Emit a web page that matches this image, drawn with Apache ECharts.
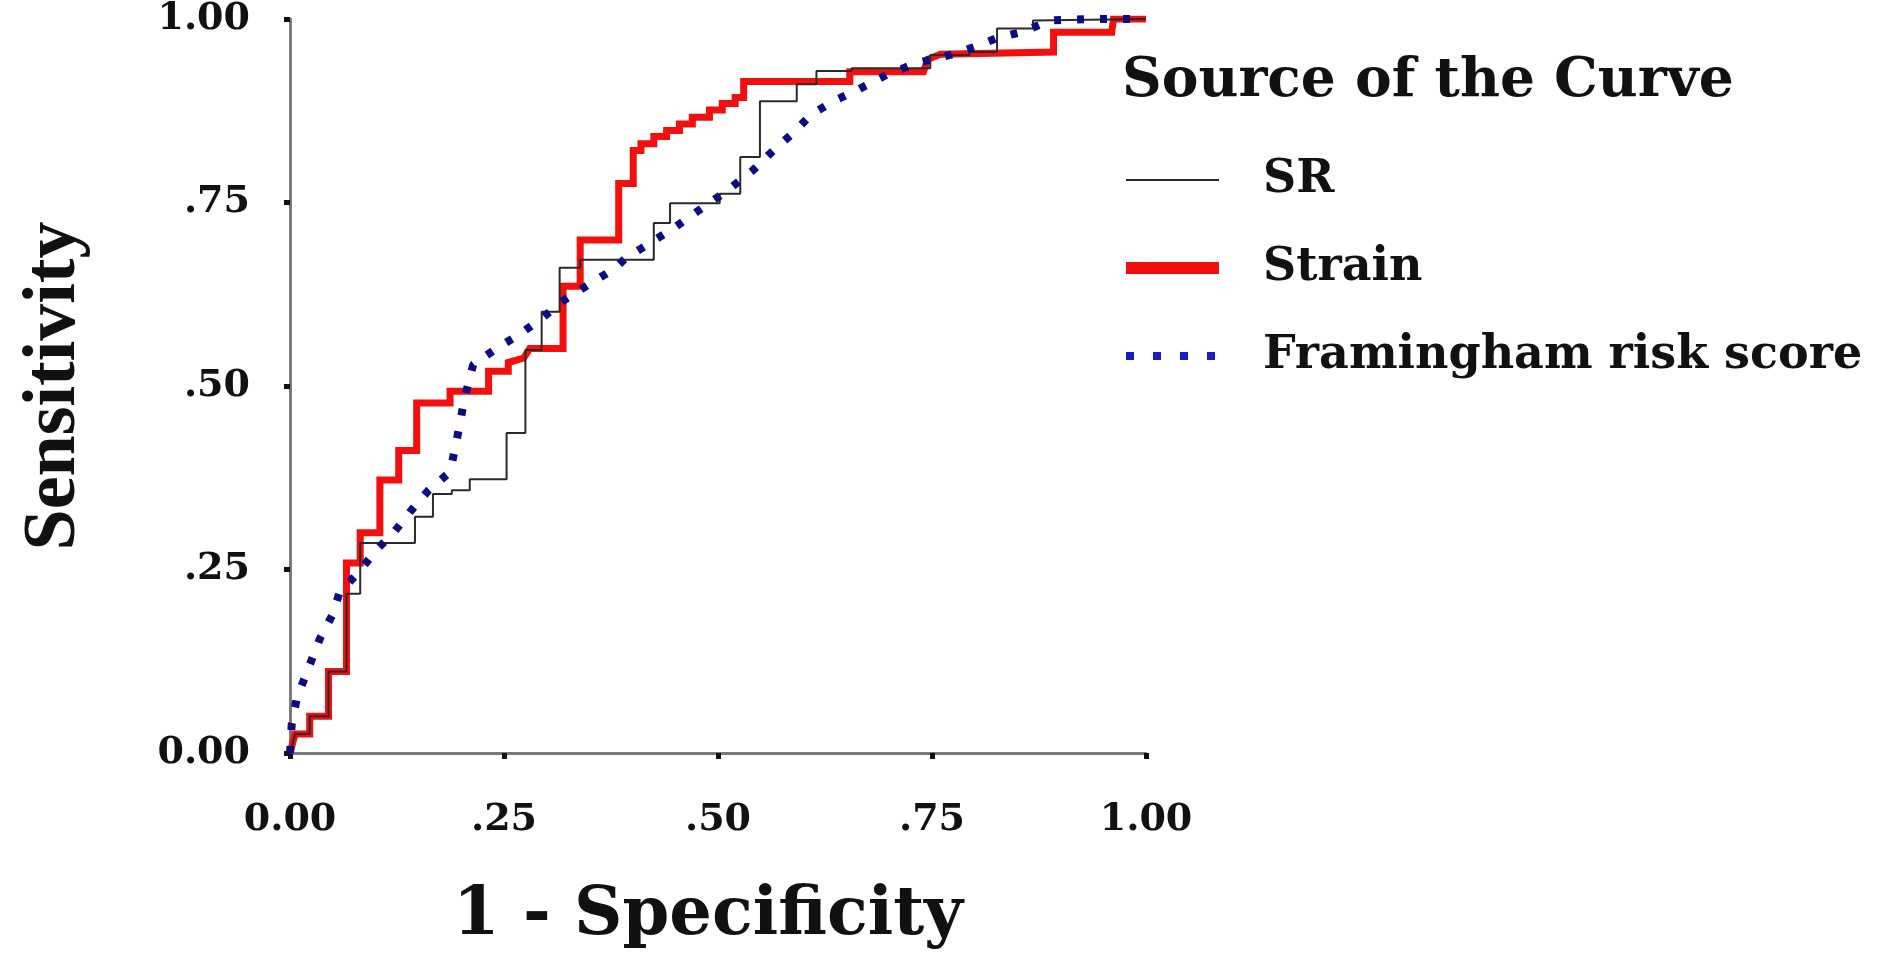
<!DOCTYPE html>
<html>
<head>
<meta charset="utf-8">
<script src="https://cdn.jsdelivr.net/npm/echarts@6/dist/echarts.min.js"></script>
<style>
  html, body { margin: 0; padding: 0; background: #fff; }
  #roc { width: 1892px; height: 955px; }
</style>
</head>
<body>
<div id="roc"></div>
<script>
// tick labels as printed on both axes
const tickLabels = ['0.00', '.25', '.50', '.75', '1.00']
const seriesNames = ['SR', 'Strain', 'Framingham risk score']

// ROC points: [1 - specificity, sensitivity]
const srCurve = [
  [0, 0], [0.006, 0.026], [0.023, 0.026], [0.023, 0.05], [0.045, 0.05], [0.045, 0.111],
  [0.066, 0.111], [0.066, 0.217], [0.082, 0.217], [0.082, 0.286], [0.146, 0.286], [0.146, 0.322],
  [0.167, 0.322], [0.167, 0.353], [0.189, 0.353], [0.189, 0.358], [0.210, 0.358], [0.210, 0.373],
  [0.253, 0.373], [0.253, 0.436], [0.275, 0.436], [0.275, 0.549], [0.294, 0.549], [0.294, 0.601],
  [0.315, 0.601], [0.315, 0.661], [0.339, 0.661], [0.339, 0.672], [0.425, 0.672], [0.425, 0.722],
  [0.444, 0.722], [0.444, 0.749], [0.502, 0.749], [0.502, 0.762], [0.526, 0.762], [0.526, 0.812],
  [0.549, 0.812], [0.549, 0.888], [0.592, 0.888], [0.592, 0.911], [0.615, 0.911], [0.615, 0.929],
  [0.656, 0.929], [0.656, 0.933], [0.748, 0.933], [0.748, 0.951], [0.794, 0.951], [0.794, 0.955],
  [0.826, 0.955], [0.826, 0.987], [0.868, 0.987], [0.868, 0.998], [1, 1]
]
const strainCurve = [
  [0, 0], [0.006, 0.026], [0.023, 0.026], [0.023, 0.05], [0.045, 0.05], [0.045, 0.111],
  [0.066, 0.111], [0.066, 0.259], [0.082, 0.259], [0.082, 0.30], [0.105, 0.30], [0.105, 0.372],
  [0.127, 0.372], [0.127, 0.412], [0.148, 0.412], [0.148, 0.477], [0.187, 0.477], [0.187, 0.493],
  [0.232, 0.493], [0.232, 0.52], [0.255, 0.52], [0.255, 0.532], [0.273, 0.538], [0.28, 0.551],
  [0.319, 0.551], [0.319, 0.636], [0.339, 0.636], [0.339, 0.699], [0.384, 0.699], [0.384, 0.776],
  [0.401, 0.776], [0.401, 0.821], [0.41, 0.821], [0.41, 0.83], [0.425, 0.83], [0.425, 0.84],
  [0.44, 0.84], [0.44, 0.848], [0.455, 0.848], [0.455, 0.857], [0.47, 0.857], [0.47, 0.866],
  [0.49, 0.866], [0.49, 0.876], [0.505, 0.876], [0.505, 0.885], [0.52, 0.885], [0.52, 0.893],
  [0.53, 0.893], [0.53, 0.915], [0.654, 0.915], [0.654, 0.928], [0.74, 0.928], [0.745, 0.945],
  [0.76, 0.952], [0.892, 0.955], [0.892, 0.982], [0.96, 0.982], [0.962, 1], [1, 1]
]
const frsCurve = [
  [0, 0], [0.002, 0.039], [0.008, 0.075], [0.020, 0.111], [0.035, 0.156], [0.049, 0.187],
  [0.058, 0.219], [0.080, 0.246], [0.101, 0.277], [0.121, 0.300], [0.142, 0.331], [0.162, 0.358],
  [0.187, 0.383], [0.193, 0.416], [0.199, 0.452], [0.204, 0.484], [0.210, 0.511], [0.214, 0.529],
  [0.241, 0.551], [0.269, 0.571], [0.296, 0.594], [0.319, 0.616], [0.347, 0.637], [0.378, 0.659],
  [0.393, 0.675], [0.421, 0.695], [0.448, 0.715], [0.476, 0.738], [0.502, 0.759], [0.516, 0.771],
  [0.541, 0.794], [0.563, 0.819], [0.588, 0.845], [0.609, 0.870], [0.635, 0.888], [0.664, 0.904],
  [0.697, 0.924], [0.732, 0.940], [0.771, 0.951], [0.800, 0.962], [0.826, 0.974], [0.857, 0.983],
  [0.888, 0.998], [0.935, 1], [1, 1]
]

// the source text is a wide bold serif, DejaVu Serif is closest for horizontal text
const wideSerif = '"DejaVu Serif", "Liberation Serif", serif'
const tallSerif = '"Liberation Serif", "DejaVu Serif", serif'
const chart = echarts.init(document.getElementById('roc'))

const tickFmt = v => tickLabels[Math.round(v / 0.25)]

const axisCommon = {
  type: 'value',
  min: 0,
  max: 1,
  interval: 0.25,
  splitLine: { show: false },
  axisLine: { show: true, lineStyle: { color: '#7a7a7a', width: 3 } },
  axisTick: { show: true, length: 6, lineStyle: { color: '#111', width: 5 } },
  axisLabel: { margin: 40, fontFamily: wideSerif, fontWeight: 'bold', fontSize: 38, color: '#111', formatter: tickFmt },
  nameLocation: 'middle'
}

chart.setOption({
  animation: false,
  backgroundColor: '#fff',
  title: {
    text: 'Source of the Curve',
    left: 1122,
    top: 54,
    padding: 0,
    textStyle: { fontFamily: wideSerif, fontWeight: 'bold', fontSize: 55, color: '#111' }
  },
  legend: {
    orient: 'vertical',
    left: 1120,
    top: 157,
    padding: 0,
    itemWidth: 93,
    itemHeight: 14,
    itemGap: 42,
    itemStyle: { opacity: 0 },
    textStyle: { fontFamily: wideSerif, fontWeight: 'bold', fontSize: 46, color: '#111', padding: [0, 0, 0, 39] },
    data: [
      { name: seriesNames[0] },
      { name: seriesNames[1], lineStyle: { width: 12 } },
      { name: seriesNames[2], lineStyle: { width: 8, type: [8, 19], color: '#1a1acc' } }
    ]
  },
  grid: { left: 290, right: 746, top: 17, bottom: 196 },
  xAxis: Object.assign({}, axisCommon, {
    name: '1 - Specificity',
    nameGap: 130,
    nameTextStyle: { fontFamily: wideSerif, fontWeight: 'bold', fontSize: 67, color: '#111', padding: [0, 20, 0, 0] },
    axisLabel: Object.assign({}, axisCommon.axisLabel, { margin: 48 })
  }),
  yAxis: Object.assign({}, axisCommon, {
    name: 'Sensitivity',
    nameGap: 198,
    nameRotate: 90,
    nameTextStyle: { fontFamily: tallSerif, fontWeight: 'bold', fontSize: 74, color: '#111' }
  }),
  series: [
    {
      name: seriesNames[1],
      type: 'line',
      data: strainCurve,
      symbol: 'none',
      z: 2,
      lineStyle: { color: '#f40f0f', width: 7, join: 'miter' },
      itemStyle: { color: '#f40f0f' }
    },
    {
      name: seriesNames[0],
      type: 'line',
      data: srCurve,
      symbol: 'none',
      z: 3,
      lineStyle: { color: '#2a2a2a', width: 2 },
      itemStyle: { color: '#2a2a2a' }
    },
    {
      name: seriesNames[2],
      type: 'line',
      data: frsCurve,
      symbol: 'none',
      z: 4,
      lineStyle: { color: '#0c0c80', width: 8, type: [7, 16] },
      itemStyle: { color: '#0c0c80' }
    }
  ]
})
</script>
</body>
</html>
